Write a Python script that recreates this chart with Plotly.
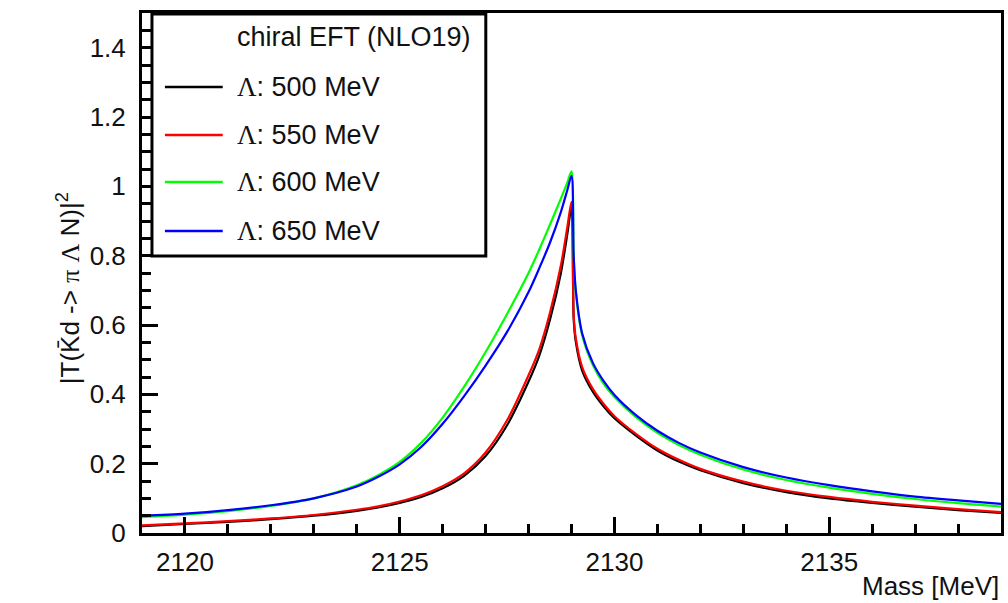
import plotly.graph_objects as go

# ---------------- data ----------------
mass = [2119, 2120, 2121, 2122, 2123, 2124, 2124.5, 2125, 2125.5, 2126, 2126.5, 2127,
        2127.5, 2128, 2128.25, 2128.5, 2128.75, 2128.9, 2129.0,
        2129.05, 2129.1, 2129.25, 2129.5, 2129.75, 2130, 2130.5, 2131, 2131.5, 2132,
        2133, 2134, 2135, 2136, 2137, 2138, 2139]

t_500 = [0.020, 0.026, 0.032, 0.040, 0.050, 0.064, 0.074, 0.087, 0.104, 0.129, 0.165, 0.222,
         0.311, 0.437, 0.512, 0.616, 0.748, 0.860, 0.940,
         0.620, 0.552, 0.468, 0.407, 0.365, 0.331, 0.281, 0.238, 0.206, 0.181,
         0.144, 0.118, 0.100, 0.087, 0.076, 0.066, 0.058]

t_550 = [0.022, 0.028, 0.034, 0.042, 0.052, 0.067, 0.077, 0.091, 0.109, 0.135, 0.172, 0.232,
         0.325, 0.455, 0.530, 0.636, 0.770, 0.880, 0.955,
         0.630, 0.562, 0.478, 0.415, 0.372, 0.337, 0.286, 0.243, 0.211, 0.185,
         0.148, 0.122, 0.104, 0.090, 0.079, 0.069, 0.060]

t_600 = [0.046, 0.053, 0.063, 0.078, 0.100, 0.138, 0.167, 0.205, 0.260, 0.333, 0.422, 0.522,
         0.632, 0.750, 0.818, 0.890, 0.964, 1.010, 1.043,
         0.800, 0.695, 0.570, 0.484, 0.430, 0.392, 0.334, 0.289, 0.254, 0.226,
         0.183, 0.153, 0.131, 0.113, 0.098, 0.086, 0.076]

t_650 = [0.050, 0.056, 0.066, 0.080, 0.100, 0.134, 0.162, 0.198, 0.248, 0.315, 0.395, 0.483,
         0.580, 0.695, 0.764, 0.838, 0.925, 0.988, 1.030,
         0.800, 0.700, 0.575, 0.490, 0.438, 0.398, 0.340, 0.295, 0.260, 0.232,
         0.190, 0.160, 0.138, 0.120, 0.105, 0.094, 0.084]

legend_title = "chiral EFT (NLO19)"
cutoffs = ["500 MeV", "550 MeV", "600 MeV", "650 MeV"]
series_colors = ["#000000", "#ff0000", "#00ff00", "#0000ff"]
series_values = [t_500, t_550, t_600, t_650]

SERIF = "<span style=\"font-family:'Liberation Serif', serif\">%s</span>"
x_title = "Mass [MeV]"
y_title = "|T(K\u0304d -> " + SERIF % "π" + " " + SERIF % "Λ" + " N)|<sup>2</sup>"

# ---------------- layout geometry ----------------
W, H = 1008, 603
L, R, T, B = 142, 4, 13, 70
PW, PH = W - L - R, H - T - B


def px(x):
    return (x - L) / PW


def py(y):
    return (H - B - y) / PH


FONT = "Liberation Sans, Arial, Helvetica, sans-serif"
TXT = "#111111"

fig = go.Figure()
for vals, col in zip(series_values, series_colors):
    fig.add_trace(go.Scatter(x=mass, y=vals, mode="lines", showlegend=False,
                             line=dict(color=col, width=2.2, shape="spline", smoothing=0.8)))

axis_common = dict(showline=True, linecolor="black", linewidth=3, mirror=True,
                   showgrid=False, zeroline=False, ticks="inside", ticklen=16,
                   tickwidth=2.5, tickcolor="black",
                   tickfont=dict(family=FONT, size=26, color=TXT))

fig.update_xaxes(range=[2119, 2139], tickmode="linear", tick0=2120, dtick=5,
                 minor=dict(tickmode="linear", tick0=2119, dtick=1, ticks="inside",
                            ticklen=9, tickwidth=2.5, tickcolor="black", showgrid=False),
                 ticklabelstandoff=4, **axis_common)
fig.update_yaxes(range=[0, 1.5], tickmode="linear", tick0=0, dtick=0.2,
                 minor=dict(tickmode="linear", tick0=0, dtick=0.05, ticks="inside",
                            ticklen=9, tickwidth=2.5, tickcolor="black", showgrid=False),
                 ticklabelstandoff=8, **axis_common)

shapes = [dict(type="rect", xref="paper", yref="paper", x0=px(152), x1=px(487),
               y0=py(256), y1=py(14), line=dict(color="black", width=3),
               fillcolor="white", layer="above")]
annotations = [
    dict(text=legend_title, xref="paper", yref="paper", x=px(235), y=py(37),
         xanchor="left", yanchor="middle", showarrow=False,
         font=dict(family=FONT, size=27, color=TXT)),
    dict(text=x_title, xref="paper", yref="paper", x=px(1004), y=py(586),
         xanchor="right", yanchor="middle", showarrow=False,
         font=dict(family=FONT, size=26, color=TXT)),
    dict(text=y_title, xref="paper", yref="paper", x=px(68), y=py(288),
         xanchor="center", yanchor="middle", textangle=-90, showarrow=False,
         font=dict(family=FONT, size=26, color=TXT)),
]
entry_y = [87, 135, 182, 231]
for cut, col, yy in zip(cutoffs, series_colors, entry_y):
    lab = SERIF % "Λ" + ": " + cut
    shapes.append(dict(type="line", xref="paper", yref="paper", x0=px(165), x1=px(223),
                       y0=py(yy), y1=py(yy), line=dict(color=col, width=2.5), layer="above"))
    annotations.append(dict(text=lab, xref="paper", yref="paper", x=px(235), y=py(yy),
                            xanchor="left", yanchor="middle", showarrow=False,
                            font=dict(family=FONT, size=27, color=TXT)))

fig.update_layout(width=W, height=H, margin=dict(l=L, r=R, t=T, b=B, pad=0),
                  paper_bgcolor="white", plot_bgcolor="white",
                  shapes=shapes, annotations=annotations, showlegend=False)

fig.write_html("out.html")
